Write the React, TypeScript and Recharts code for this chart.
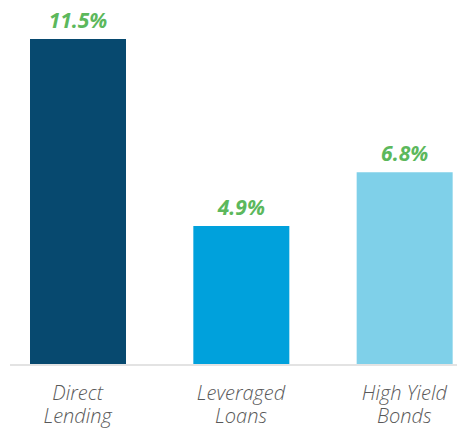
import { Bar, BarChart, Cell, LabelList, XAxis, YAxis } from "recharts";

const categories = ["Direct\nLending", "Leveraged\nLoans", "High Yield\nBonds"];
const yields = [11.5, 4.9, 6.8];
const barColors = ["#07496f", "#00a1dc", "#7fd0e9"];

const data = categories.map((name, i) => ({ name, value: yields[i] }));

const FONT = "'Open Sans', 'Noto Sans', sans-serif";

function CategoryTick({ x, y, payload }: any) {
  const lines = String(payload.value).split("\n");
  return (
    <text
      x={x}
      y={y}
      textAnchor="middle"
      fill="#595959"
      fontFamily={FONT}
      fontStyle="italic"
      fontWeight={300}
      fontSize={20}
    >
      {lines.map((l, i) => (
        <tspan key={i} x={x} dy={i === 0 ? 27 : 23}>
          {l}
        </tspan>
      ))}
    </text>
  );
}

/** Yield comparison bar chart. */
export default function App() {
  return (
    <div style={{ margin: "-8px -8px 0 -8px", width: 465, height: 429, background: "#fff" }}>
      <BarChart
        width={465}
        height={429}
        data={data}
        margin={{ top: 39, right: 0, bottom: 0, left: 10 }}
      >
        <XAxis
          dataKey="name"
          height={64}
          interval={0}
          tickLine={false}
          axisLine={{ stroke: "#e3e3e3", strokeWidth: 2 }}
          padding={{ left: -14, right: -21 }}
          tick={<CategoryTick />}
        />
        <YAxis hide domain={[0, 11.5]} />
        <Bar dataKey="value" barSize={96} isAnimationActive={false}>
          {data.map((_, i) => (
            <Cell key={i} fill={barColors[i]} />
          ))}
          <LabelList
            dataKey="value"
            position="top"
            offset={11}
            formatter={(v: any) => `${Number(v).toFixed(1)}%`}
            style={{ fill: "#5cb85c", fontFamily: FONT, fontStyle: "italic", fontWeight: 700, fontSize: 21 }}
          />
        </Bar>
      </BarChart>
    </div>
  );
}
